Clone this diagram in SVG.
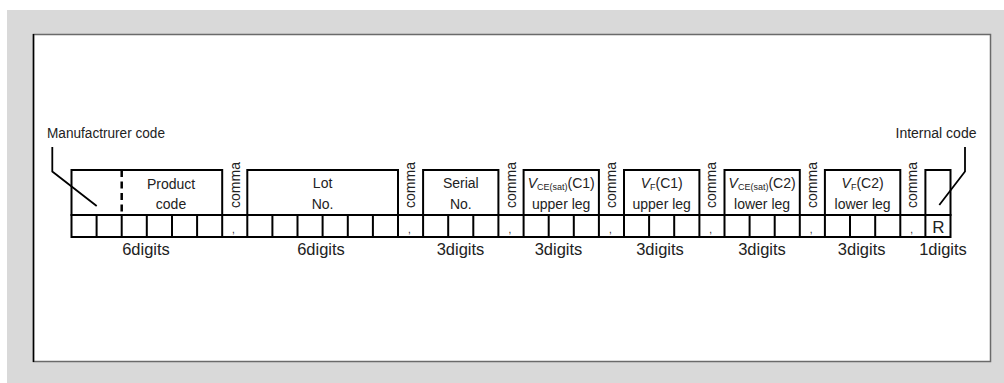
<svg xmlns="http://www.w3.org/2000/svg" width="1004" height="383" viewBox="0 0 1004 383">
<style>
.bx{fill:none;stroke:#000;stroke-width:2}
.ln{stroke:#000;stroke-width:2}
.t{font-family:"Liberation Sans",Arial,sans-serif;font-size:14px;fill:#222;text-anchor:middle}
.d{font-family:"Liberation Sans",Arial,sans-serif;font-size:16.5px;fill:#222;text-anchor:middle}
.c{font-family:"Liberation Sans",Arial,sans-serif;font-size:14px;fill:#222;text-anchor:middle}
.cm{font-family:"Liberation Sans",Arial,sans-serif;font-size:10px;fill:#222;text-anchor:middle}
.sub{font-size:9px}
.lead{fill:none;stroke:#000;stroke-width:1.8}
</style>
<rect x="0" y="0" width="1004" height="383" fill="#fff"/>
<rect x="7" y="10" width="997" height="373" fill="#d9d9d9"/>
<rect x="33.5" y="34.5" width="957" height="327" fill="#fff" stroke="#6a6a6a" stroke-width="1.5"/>
<line x1="33.5" y1="34" x2="33.5" y2="362" stroke="#000" stroke-width="1.5"/>

<g id="manufacturer-label">
<text class="t" x="106" y="138" textLength="118" lengthAdjust="spacingAndGlyphs">Manufactrurer code</text>
</g>
<g id="internal-label">
<text class="t" x="936" y="138" textLength="81" lengthAdjust="spacingAndGlyphs">Internal code</text>
</g>

<g id="cells">
<rect class="bx" x="71.5" y="215" width="879" height="22"/>
<line class="ln" x1="71.5" y1="237" x2="950.5" y2="237" stroke-width="2.5"/>
<path class="ln" fill="none" d="M96.6 215V237M121.7 215V237M146.8 215V237M172 215V237M197.1 215V237M222.2 215V237M247.3 215V237M272.4 215V237M297.5 215V237M322.6 215V237M347.8 215V237M372.9 215V237M398 215V237M423.1 215V237M448.2 215V237M473.3 215V237M498.4 215V237M523.6 215V237M548.7 215V237M573.8 215V237M598.9 215V237M624 215V237M649.1 215V237M674.2 215V237M699.4 215V237M724.5 215V237M749.6 215V237M774.7 215V237M799.8 215V237M824.9 215V237M850 215V237M875.2 215V237M900.3 215V237M925.4 215V237"/>
<text class="t" x="938.5" y="233" style="font-size:17px">R</text>
</g>

<g id="product-code">
<rect class="bx" x="71.5" y="170" width="150.7" height="45"/>
<line x1="121.7" y1="170" x2="121.7" y2="215" stroke="#000" stroke-width="2.5" stroke-dasharray="7 4.5"/>
<text class="t" x="171" y="188.5">Product</text>
<text class="t" x="171" y="208.5">code</text>
<text class="d" x="146" y="255">6digits</text>
</g>
<g id="lot-no">
<rect class="bx" x="247.3" y="170" width="150.7" height="45"/>
<text class="t" x="322.6" y="188">Lot</text>
<text class="t" x="322.6" y="209">No.</text>
<text class="d" x="321" y="255">6digits</text>
</g>
<g id="serial-no">
<rect class="bx" x="423.1" y="170" width="75.3" height="45"/>
<text class="t" x="460.8" y="188">Serial</text>
<text class="t" x="460.8" y="209">No.</text>
<text class="d" x="460.5" y="255">3digits</text>
</g>
<g id="vce-c1">
<rect class="bx" x="523.6" y="170" width="75.3" height="45"/>
<text class="t" x="561.2" y="188"><tspan font-style="italic">V</tspan><tspan class="sub" dy="1.5">CE(sat)</tspan><tspan dy="-1.5">(C1)</tspan></text>
<text class="t" x="561.2" y="209">upper leg</text>
<text class="d" x="558.5" y="255">3digits</text>
</g>
<g id="vf-c1">
<rect class="bx" x="624" y="170" width="75.4" height="45"/>
<text class="t" x="661.7" y="188"><tspan font-style="italic">V</tspan><tspan class="sub" dy="1.5">F</tspan><tspan dy="-1.5">(C1)</tspan></text>
<text class="t" x="661.7" y="209">upper leg</text>
<text class="d" x="660" y="255">3digits</text>
</g>
<g id="vce-c2">
<rect class="bx" x="724.5" y="170" width="75.3" height="45"/>
<text class="t" x="762.1" y="188"><tspan font-style="italic">V</tspan><tspan class="sub" dy="1.5">CE(sat)</tspan><tspan dy="-1.5">(C2)</tspan></text>
<text class="t" x="762.1" y="209">lower leg</text>
<text class="d" x="762" y="255">3digits</text>
</g>
<g id="vf-c2">
<rect class="bx" x="824.9" y="170" width="75.4" height="45"/>
<text class="t" x="862.6" y="188"><tspan font-style="italic">V</tspan><tspan class="sub" dy="1.5">F</tspan><tspan dy="-1.5">(C2)</tspan></text>
<text class="t" x="862.6" y="209">lower leg</text>
<text class="d" x="861.7" y="255">3digits</text>
</g>
<g id="internal-code">
<rect class="bx" x="925.4" y="170" width="25.1" height="45"/>
<text class="d" x="943" y="255">1digits</text>
</g>

<g id="commas">
<text class="c" transform="translate(239.5,185) rotate(-90)">comma</text>
<text class="c" transform="translate(415,185) rotate(-90)">comma</text>
<text class="c" transform="translate(515.5,185) rotate(-90)">comma</text>
<text class="c" transform="translate(616,185) rotate(-90)">comma</text>
<text class="c" transform="translate(716.4,185) rotate(-90)">comma</text>
<text class="c" transform="translate(816.9,185) rotate(-90)">comma</text>
<text class="c" transform="translate(917.3,185) rotate(-90)">comma</text>
<text class="cm" x="233.5" y="233">,</text>
<text class="cm" x="409.3" y="233">,</text>
<text class="cm" x="509.8" y="233">,</text>
<text class="cm" x="610.3" y="233">,</text>
<text class="cm" x="710.7" y="233">,</text>
<text class="cm" x="811.2" y="233">,</text>
<text class="cm" x="911.6" y="233">,</text>
</g>

<g id="connectors">
<polyline class="lead" points="52.3,147 52.3,171.5 96.7,206"/>
<polyline class="lead" points="965,147 965,171.5 939.3,205"/>
</g>
</svg>
